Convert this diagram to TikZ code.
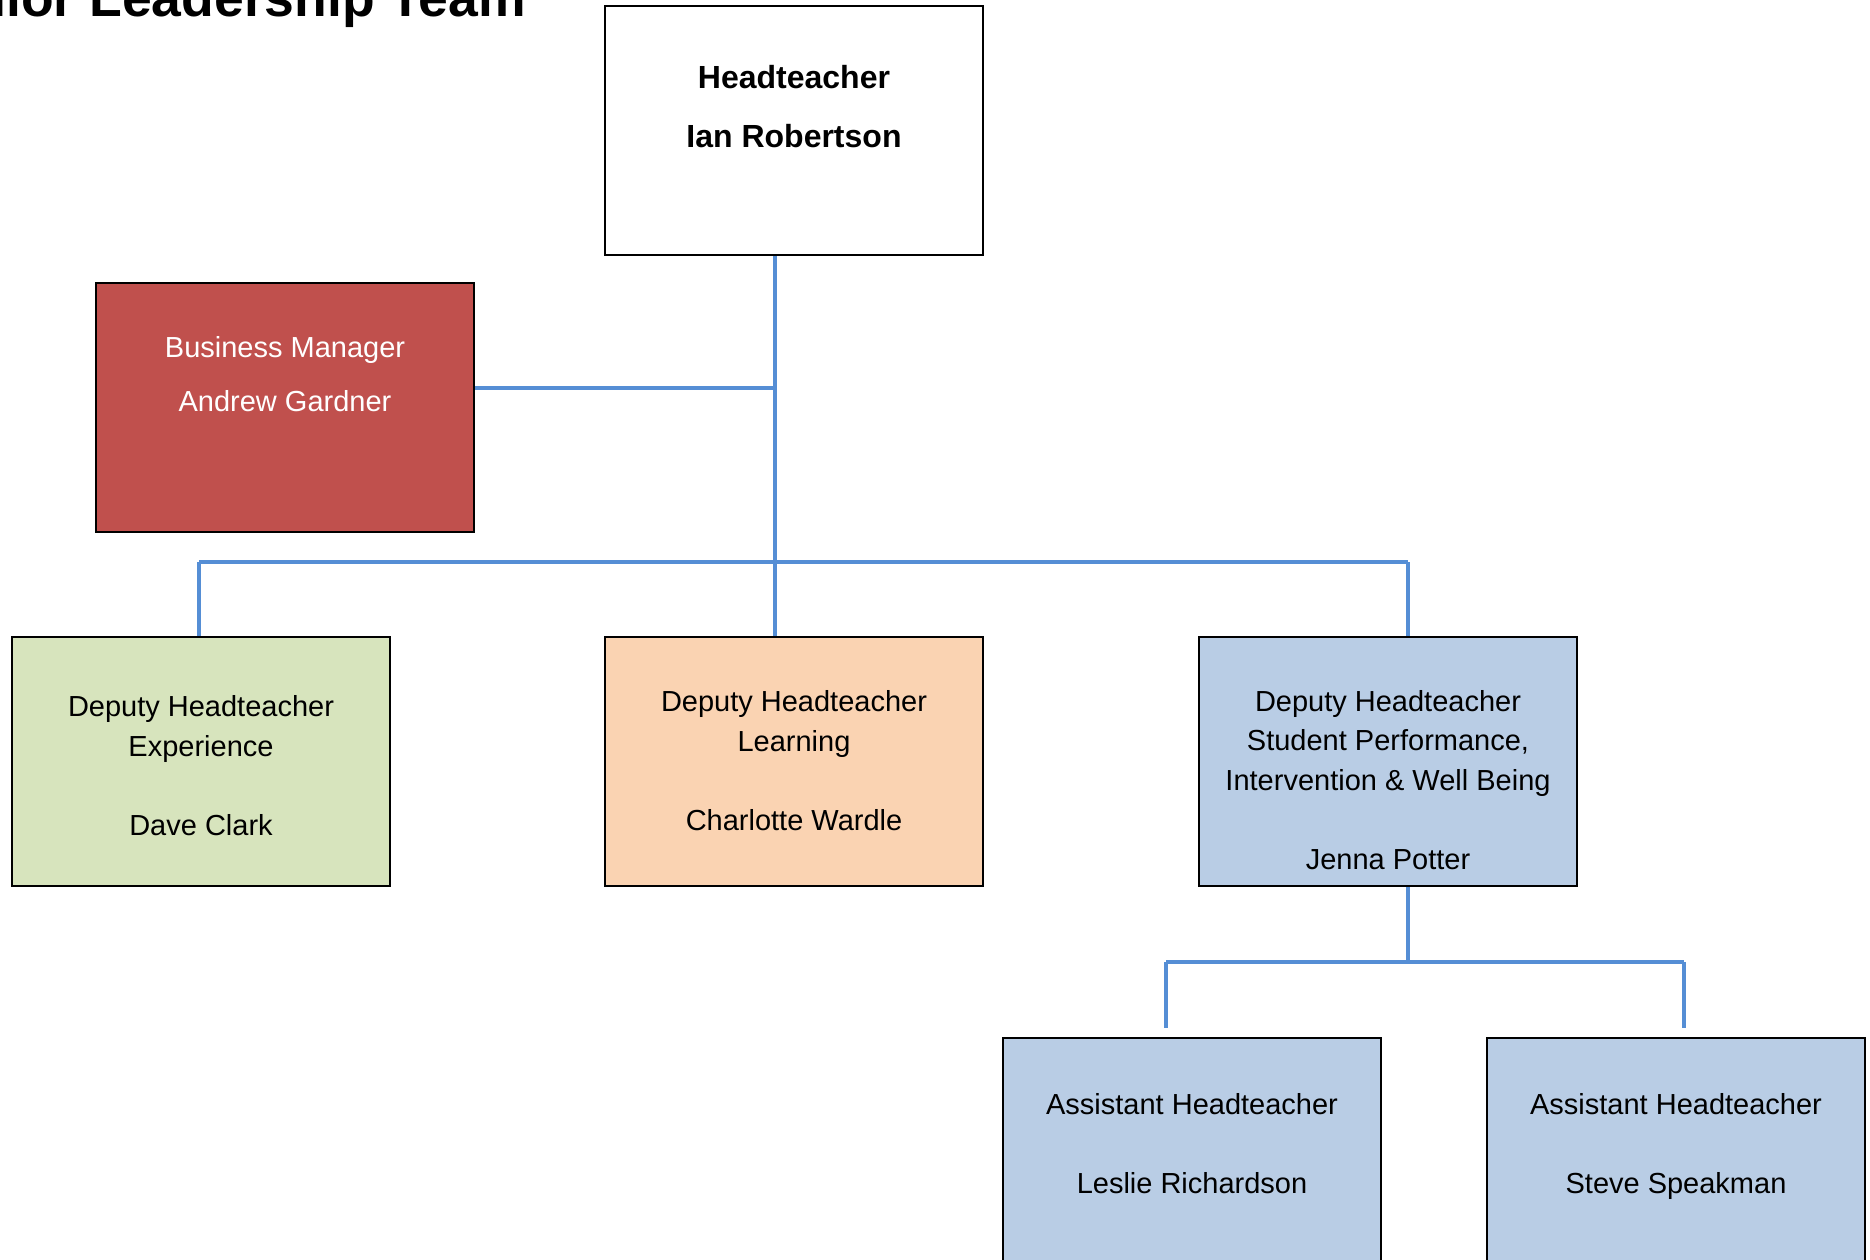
\documentclass[tikz,border=0pt]{standalone}
\usepackage{fontspec}
\setmainfont{Liberation Sans}
\definecolor{conncol}{HTML}{558ED5}
\definecolor{redfill}{HTML}{C0504D}
\definecolor{greenfill}{HTML}{D7E4BD}
\definecolor{peachfill}{HTML}{FAD3B2}
\definecolor{bluefill}{HTML}{B9CDE5}
\tikzset{
  box/.style={draw=black, line width=2pt, minimum width=378pt, minimum height=249pt, inner sep=0pt},
  conn/.style={draw=conncol, line width=3.5pt},
  txt/.style={anchor=base, align=center, inner sep=0pt, font=\fontsize{29}{39.5}\selectfont},
}
\begin{document}
\begin{tikzpicture}[x=1pt,y=-1pt]
\useasboundingbox (0,0) rectangle (1870,1260);
\clip (0,0) rectangle (1870,1260);
\fill[white] (0,0) rectangle (1870,1260);

% title (cut off by the page edge, as in the reference)
\node[anchor=base west, inner sep=0pt, font=\fontsize{53.5}{60}\selectfont\bfseries] (title) at (-92,17) {Senior Leadership Team};

% boxes
\node[box, fill=white] (ht) at (794,130.5) {};
\node[box, fill=redfill] (bm) at (285,407.5) {};
\node[box, fill=greenfill] (dx) at (201,761.5) {};
\node[box, fill=peachfill] (dl) at (794,761.5) {};
\node[box, fill=bluefill] (dp) at (1388,761.5) {};
\node[box, fill=bluefill, minimum height=260pt] (a1) at (1192,1168) {};
\node[box, fill=bluefill, minimum height=260pt] (a2) at (1676,1168) {};

% texts (anchor base = baseline of the last line)
\node[txt, font=\fontsize{32}{59}\selectfont\bfseries] (htT) at (794,148) {Headteacher\\Ian Robertson};
\node[txt, text=white, font=\fontsize{29}{54}\selectfont] (bmT) at (285,411) {Business Manager\\Andrew Gardner};
\node[txt] (dxT) at (201,835) {Deputy Headteacher\\Experience\\[39.5pt]Dave Clark};
\node[txt] (dlT) at (794,830) {Deputy Headteacher\\Learning\\[39.5pt]Charlotte Wardle};
\node[txt] (dpT) at (1388,869) {Deputy Headteacher\\Student Performance,\\Intervention \& Well Being\\[39.5pt]Jenna Potter};
\node[txt] (a1T) at (1192,1193) {Assistant Headteacher\\[39.5pt]Leslie Richardson};
\node[txt] (a2T) at (1676,1193) {Assistant Headteacher\\[39.5pt]Steve Speakman};

% connector coordinates
\coordinate (jb) at (775,388);
\coordinate (busL) at (199,562);
\coordinate (busR) at (1408,562);
\coordinate (bus2) at (1408,962);
\coordinate (bus2L) at (1166,962);
\coordinate (bus2R) at (1684,962);
\coordinate (endL) at (1166,1028);
\coordinate (endR) at (1684,1028);

% connectors
\draw[conn] (ht.south -| jb) -- (dl.north -| jb);
\draw[conn] (bm.east |- jb) -- (jb);
\draw[conn] (busL) -- (busR);
\draw[conn] (busL) -- (busL |- dx.north);
\draw[conn] (busR) -- (busR |- dp.north);
\draw[conn] (dp.south -| bus2) -- (bus2);
\draw[conn] (bus2L) -- (bus2R);
\draw[conn] (bus2L) -- (endL);
\draw[conn] (bus2R) -- (endR);
\end{tikzpicture}
\end{document}
